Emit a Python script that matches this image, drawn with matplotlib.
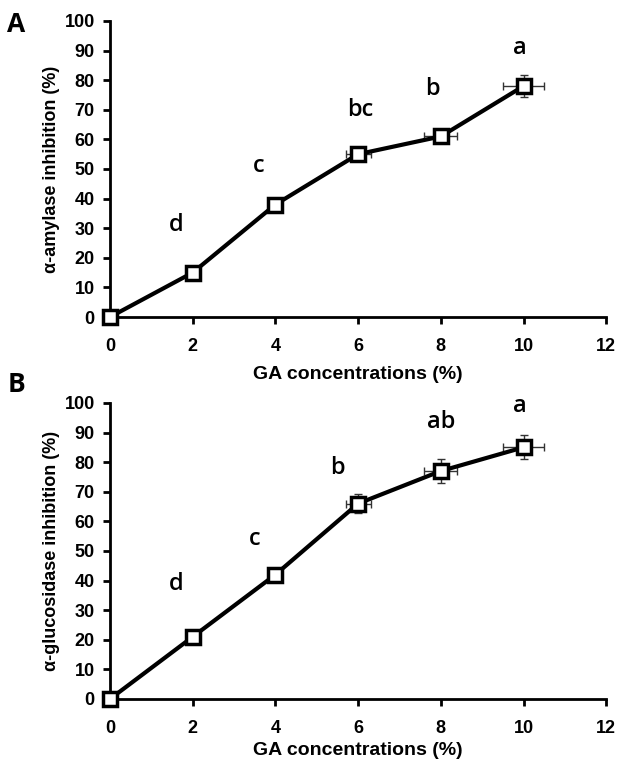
import matplotlib
matplotlib.use("Agg")
import matplotlib.pyplot as plt

conc = [0, 2, 4, 6, 8, 10]

amylase = [0, 15, 38, 55, 61, 78]
amylase_yerr = [0, 0, 0, 1.0, 1.5, 3.7]
amylase_xerr = [0, 0, 0, 0.3, 0.4, 0.5]
amylase_letters = ["d", "c", "bc", "b", "a"]
amylase_letter_x = [1.6, 3.6, 6.05, 7.8, 9.9]
amylase_letter_y = [31, 51, 70, 77, 91]

glucosidase = [0, 21, 42, 66, 77, 85]
glucosidase_yerr = [0, 0, 0, 3.2, 3.9, 4.0]
glucosidase_xerr = [0, 0, 0, 0.3, 0.4, 0.5]
glucosidase_letters = ["d", "c", "b", "ab", "a"]
glucosidase_letter_x = [1.6, 3.5, 5.5, 8.0, 9.9]
glucosidase_letter_y = [39, 54, 78, 93.5, 99]

xticks = [0, 2, 4, 6, 8, 10, 12]
yticks = list(range(0, 101, 10))

fig = plt.figure(figsize=(6.18, 7.65), dpi=100)

tick_font = dict(family="Liberation Sans", weight="bold", size=13)
letter_font = dict(family="Open Sans", weight="semibold", size=17)

def panel(rect, y, yerr, xerr, letters, lx, ly, ylabel, tag, tag_y, xpad):
    ax = fig.add_axes(rect)
    ax.errorbar(conc, y, yerr=yerr, xerr=xerr, fmt="none", ecolor="#333333",
                elinewidth=1, capsize=3, capthick=1, zorder=2, clip_on=False)
    ax.plot(conc, y, color="black", lw=3, marker="s", markersize=10,
            markerfacecolor="white", markeredgecolor="black", markeredgewidth=2.5,
            zorder=3, clip_on=False)
    for t, xx, yy in zip(letters, lx, ly):
        ax.text(xx, yy, t, ha="center", va="center", **letter_font)
    ax.set_xlim(0, 12)
    ax.set_ylim(0, 100)
    ax.set_xticks(xticks)
    ax.set_yticks(yticks)
    ax.set_xticklabels([str(v) for v in xticks], fontdict=tick_font)
    ax.set_yticklabels([str(v) for v in yticks], fontdict=tick_font)
    ax.tick_params(axis="x", direction="out", length=5, width=2, pad=10)
    ax.tick_params(axis="y", direction="out", length=5, width=2, pad=6)
    for s in ["top", "right"]:
        ax.spines[s].set_visible(False)
    for s in ["left", "bottom"]:
        ax.spines[s].set_linewidth(2)
    ax.set_xlabel("GA concentrations (%)", family="Liberation Sans",
                  weight="bold", size=14, labelpad=xpad)
    ax.set_ylabel(ylabel, family="Liberation Sans", weight="bold", size=13,
                  labelpad=3)
    fig.text(0.012, tag_y, tag, family="Open Sans", weight="bold", size=19,
             va="center", ha="left")
    return ax

panel([0.178, 0.5856, 0.803, 0.387], amylase, amylase_yerr, amylase_xerr,
      amylase_letters, amylase_letter_x, amylase_letter_y,
      "α-amylase inhibition (%)", "A", 1 - 25 / 765, 8)
panel([0.178, 0.0863, 0.803, 0.387], glucosidase, glucosidase_yerr,
      glucosidase_xerr, glucosidase_letters, glucosidase_letter_x,
      glucosidase_letter_y, "α-glucosidase inhibition (%)", "B", 1 - 385 / 765, 4)

fig.savefig("out.png", dpi=100)
